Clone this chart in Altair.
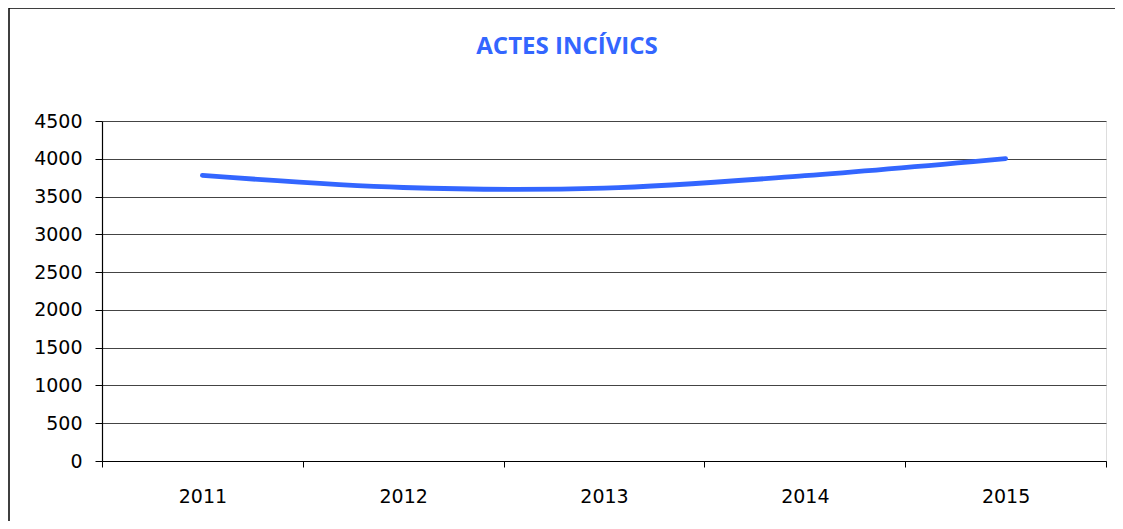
import altair as alt
import pandas as pd

title_text = "ACTES INCÍVICS"
years = ["2011", "2012", "2013", "2014", "2015"]
values = [3780, 3620, 3612, 3776, 4002]
y_ticks = [0, 500, 1000, 1500, 2000, 2500, 3000, 3500, 4000, 4500]

df = pd.DataFrame({"year": years, "value": values})

line = alt.Chart(df).mark_line(
    color="#3366FF", strokeWidth=4.8, interpolate="catmull-rom", strokeCap="round"
).encode(
    x=alt.X(
        "year:O",
        bandPosition=0.5,
        scale=alt.Scale(type="band", paddingInner=0, paddingOuter=0),
        axis=alt.Axis(
            title=None, labelAngle=0, tickBand="extent", tickSize=6,
            tickColor="black", domainColor="black", domainWidth=1.2,
            labelFont="DejaVu Sans", labelFontSize=19, labelColor="black",
            labelPadding=20, grid=False,
        ),
    ),
    y=alt.Y(
        "value:Q",
        scale=alt.Scale(domain=[0, 4500], nice=False),
        axis=alt.Axis(
            title=None, values=y_ticks, format="d", tickSize=7, tickColor="black",
            domainColor="black", domainWidth=1.2,
            labelFont="DejaVu Sans", labelFontSize=19, labelColor="black",
            labelPadding=13, gridColor="#444444", gridWidth=1,
        ),
    ),
)

frame = alt.Chart(pd.DataFrame({"a": [0]})).mark_rect(
    fill=None, stroke="black", strokeWidth=1.5
).encode(
    x=alt.value(-93), x2=alt.value(1014), y=alt.value(-113), y2=alt.value(430)
)

title = alt.Chart(pd.DataFrame({"t": [title_text]})).mark_text(
    font="Open Sans", fontSize=24, fontWeight="bold", color="#3366FF",
    align="center", baseline="alphabetic",
).encode(
    text="t:N", x=alt.value(465), y=alt.value(-67)
)

chart = alt.layer(frame, title, line).properties(
    width=1004,
    height=340,
    padding={"left": 94, "top": 113, "right": 9, "bottom": 60},
    autosize=alt.AutoSizeParams(type="none"),
).configure_view(stroke="#999999", strokeWidth=1.5).configure(background="white")

chart.save("out.html", embed_options={"renderer": "svg", "actions": False})
